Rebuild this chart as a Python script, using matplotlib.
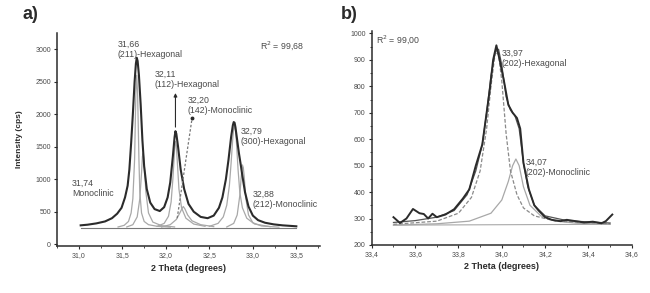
import matplotlib
matplotlib.use("Agg")
import matplotlib.pyplot as plt
from matplotlib.ticker import MultipleLocator, FuncFormatter

plt.rcParams["font.family"] = ["Liberation Sans", "DejaVu Sans"]

# ---- panel a: measured pattern and fitted components ----
a_obs_x = [31.02, 31.10, 31.20, 31.30, 31.38, 31.44, 31.49, 31.53, 31.56, 31.58,
           31.60, 31.62, 31.64, 31.655, 31.665, 31.675, 31.69, 31.71, 31.73, 31.75,
           31.78, 31.82, 31.87, 31.93, 31.98, 32.02, 32.05, 32.08, 32.10, 32.11,
           32.12, 32.14, 32.17, 32.21, 32.26, 32.32, 32.40, 32.48, 32.55, 32.61,
           32.65, 32.69, 32.72, 32.75, 32.77, 32.78, 32.79, 32.80, 32.82, 32.84,
           32.86, 32.88, 32.91, 32.95, 33.00, 33.06, 33.14, 33.24, 33.34, 33.45,
           33.50]
a_obs_y = [290, 300, 320, 350, 400, 470, 560, 720, 900, 1150,
           1550, 2000, 2500, 2780, 2870, 2820, 2600, 2150, 1600, 1200,
           850, 640, 540, 510, 570, 720, 950, 1350, 1650, 1740,
           1700, 1500, 1150, 850, 620, 500, 420, 400, 440, 560,
           720, 1000, 1300, 1650, 1830, 1880, 1870, 1800, 1600, 1400,
           1230, 1050, 800, 580, 440, 370, 330, 305, 290, 280,
           275]

a_c1_x = [31.45, 31.52, 31.57, 31.60, 31.62, 31.64, 31.655, 31.665, 31.675, 31.69,
          31.70, 31.72, 31.75, 31.80, 31.90, 32.05]
a_c1_y = [265, 290, 350, 480, 700, 1300, 2350, 2600, 2300, 1300,
          800, 480, 350, 300, 275, 262]
a_c2_x = [31.55, 31.62, 31.67, 31.70, 31.72, 31.73, 31.74, 31.75, 31.77, 31.80,
          31.85, 31.95, 32.10]
a_c2_y = [265, 300, 420, 700, 1100, 1350, 1400, 1250, 800, 480,
          340, 285, 265]
a_c3_x = [31.90, 31.98, 32.03, 32.06, 32.08, 32.10, 32.11, 32.12, 32.13, 32.15,
          32.18, 32.23, 32.32, 32.45]
a_c3_y = [275, 320, 430, 650, 1000, 1450, 1580, 1520, 1300, 850,
          560, 400, 310, 275]
a_c4_x = [31.95, 32.05, 32.12, 32.16, 32.19, 32.20, 32.22, 32.25, 32.30, 32.40, 32.55]
a_c4_y = [265, 300, 380, 480, 560, 580, 540, 450, 360, 300, 270]
a_c5_x = [32.50, 32.60, 32.66, 32.70, 32.73, 32.75, 32.77, 32.78, 32.79, 32.80,
          32.81, 32.83, 32.85, 32.88, 32.93, 33.02, 33.20]
a_c5_y = [275, 320, 420, 600, 900, 1250, 1650, 1780, 1820, 1760,
          1600, 1150, 800, 560, 400, 310, 270]
a_c6_x = [32.70, 32.78, 32.82, 32.85, 32.87, 32.88, 32.89, 32.90, 32.92, 32.95,
          33.00, 33.10, 33.30]
a_c6_y = [265, 320, 450, 750, 1100, 1220, 1180, 1050, 700, 450,
          330, 280, 262]
a_base_x = [31.02, 33.50]
a_base_y = [255, 255]

# ---- panel b ----
b_obs_x = [33.50, 33.53, 33.56, 33.59, 33.62, 33.64, 33.66, 33.68, 33.70, 33.74,
           33.78, 33.82, 33.85, 33.88, 33.91, 33.93, 33.945, 33.96, 33.975, 33.99,
           34.01, 34.03, 34.05, 34.07, 34.085, 34.10, 34.125, 34.15, 34.17, 34.20,
           34.23, 34.27, 34.30, 34.34, 34.38, 34.42, 34.46, 34.48, 34.51]
b_obs_y = [305, 283, 300, 336, 320, 317, 300, 318, 305, 315,
           335, 375, 410, 500, 580, 700, 790, 900, 955, 900,
           820, 730, 700, 680, 640, 510, 410, 350, 330, 305,
           295, 290, 295, 290, 285, 288, 282, 290, 315]
b_fit_x = [33.50, 33.60, 33.70, 33.78, 33.84, 33.88, 33.91, 33.93, 33.95, 33.97,
           33.985, 34.00, 34.02, 34.04, 34.06, 34.08, 34.10, 34.12, 34.15, 34.20,
           34.30, 34.40, 34.50]
b_fit_y = [285, 292, 305, 330, 390, 480, 580, 700, 840, 930,
           940, 880, 760, 710, 690, 640, 510, 420, 350, 310,
           292, 287, 283]
b_c1_x = [33.50, 33.70, 33.80, 33.86, 33.90, 33.93, 33.95, 33.97, 33.985, 34.00,
          34.02, 34.04, 34.07, 34.10, 34.15, 34.25, 34.50]
b_c1_y = [278, 290, 320, 380, 480, 640, 800, 930, 920, 820,
          620, 480, 390, 340, 310, 290, 280]
b_c2_x = [33.50, 33.70, 33.85, 33.95, 34.00, 34.03, 34.05, 34.065, 34.08, 34.10,
          34.13, 34.18, 34.25, 34.35, 34.50]
b_c2_y = [275, 280, 290, 320, 370, 440, 500, 525, 500, 420,
          350, 310, 290, 282, 278]
b_base_x = [33.50, 34.50]
b_base_y = [275, 278]

a_ticks = [31.0, 31.5, 32.0, 32.5, 33.0, 33.5]
b_ticks = [33.4, 33.6, 33.8, 34.0, 34.2, 34.4, 34.6]

dark = "#2b2b2b"
light = "#a8a8a8"
txt = "#4a4a4a"


def comma(v, pos):
    return f"{v:.1f}".replace(".", ",")


def style_axis(ax):
    for s in ("top", "right"):
        ax.spines[s].set_visible(False)
    for s in ("left", "bottom"):
        ax.spines[s].set_linewidth(1.1)
        ax.spines[s].set_color(dark)
    ax.tick_params(labelsize=5, colors=dark, labelcolor=txt, length=2.5, width=0.8, pad=2)
    ax.tick_params(which="minor", length=1.5, width=0.6, colors=dark)
    ax.xaxis.set_major_formatter(FuncFormatter(comma))
    ax.set_xlabel("2 Theta (degrees)", fontsize=6.5, fontweight="bold", color=dark, labelpad=3)


fig = plt.figure(figsize=(6.5, 2.93), dpi=100)
ax1 = fig.add_axes([0.088, 0.160, 0.404, 0.727])
ax2 = fig.add_axes([0.572, 0.164, 0.400, 0.731])

# panel a
for cx, cy in [(a_c1_x, a_c1_y), (a_c2_x, a_c2_y), (a_c3_x, a_c3_y),
               (a_c4_x, a_c4_y), (a_c5_x, a_c5_y), (a_c6_x, a_c6_y)]:
    ax1.plot(cx, cy, color=light, lw=0.9)
ax1.plot(a_base_x, a_base_y, color="#777777", lw=0.8)
ax1.plot(a_obs_x, a_obs_y, color=dark, lw=1.5)

ax1.annotate("", xy=(32.11, 2370), xytext=(32.11, 1760),
             arrowprops=dict(arrowstyle="-|>", color=dark, lw=0.8, mutation_scale=5))
ax1.plot([32.13, 32.30], [400, 1930], color="#777777", lw=0.9, ls=(0, (2, 1.5)))
ax1.plot([32.30], [1950], marker="o", ms=1.8, color=dark)

fs = 6.3
ax1.text(31.44, 3150, "31,66\n(211)-Hexagonal", fontsize=fs, color=txt, va="top", linespacing=1.15)
ax1.text(31.87, 2690, "32,11\n(112)-Hexagonal", fontsize=fs, color=txt, va="top", linespacing=1.15)
ax1.text(32.25, 2280, "32,20\n(142)-Monoclinic", fontsize=fs, color=txt, va="top", linespacing=1.15)
ax1.text(32.86, 1800, "32,79\n(300)-Hexagonal", fontsize=fs, color=txt, va="top", linespacing=1.15)
ax1.text(30.92, 1000, "31,74\nMonoclinic", fontsize=fs, color=txt, va="top", linespacing=1.15)
ax1.text(33.00, 830, "32,88\n(212)-Monoclinic", fontsize=fs, color=txt, va="top", linespacing=1.15)
ax1.text(33.08, 3150, "R$^2$ = 99,68", fontsize=fs, color=txt, va="top")

ax1.set_xlim(30.75, 33.77)
ax1.set_ylim(-30, 3250)
ax1.set_xticks(a_ticks)
ax1.xaxis.set_minor_locator(MultipleLocator(0.25))
ax1.yaxis.set_major_locator(MultipleLocator(500))
ax1.set_ylabel("Intensity (cps)", fontsize=6, fontweight="bold", color=dark, labelpad=9)
style_axis(ax1)

# panel b
ax2.plot(b_base_x, b_base_y, color=light, lw=0.8)
ax2.plot(b_c2_x, b_c2_y, color=light, lw=0.9)
ax2.plot(b_c1_x, b_c1_y, color="#8a8a8a", lw=0.9, ls=(0, (3, 1.5)))
ax2.plot(b_fit_x, b_fit_y, color="#555555", lw=0.9)
ax2.plot(b_obs_x, b_obs_y, color=dark, lw=1.4)

ax2.text(33.42, 1000, "R$^2$ = 99,00", fontsize=fs, color=txt, va="top")
ax2.text(34.00, 940, "33,97\n(202)-Hexagonal", fontsize=fs, color=txt, va="top", linespacing=1.15)
ax2.text(34.11, 530, "34,07\n(202)-Monoclinic", fontsize=fs, color=txt, va="top", linespacing=1.15)

ax2.set_xlim(33.4, 34.6)
ax2.set_ylim(200, 1010)
ax2.set_xticks(b_ticks)
ax2.xaxis.set_minor_locator(MultipleLocator(0.1))
ax2.yaxis.set_major_locator(MultipleLocator(100))
ax2.yaxis.set_minor_locator(MultipleLocator(50))
style_axis(ax2)

fig.text(0.035, 0.95, "a)", fontsize=13, fontweight="bold", color=dark, va="center")
fig.text(0.525, 0.95, "b)", fontsize=13, fontweight="bold", color=dark, va="center")

fig.savefig("out.png", dpi=100)
